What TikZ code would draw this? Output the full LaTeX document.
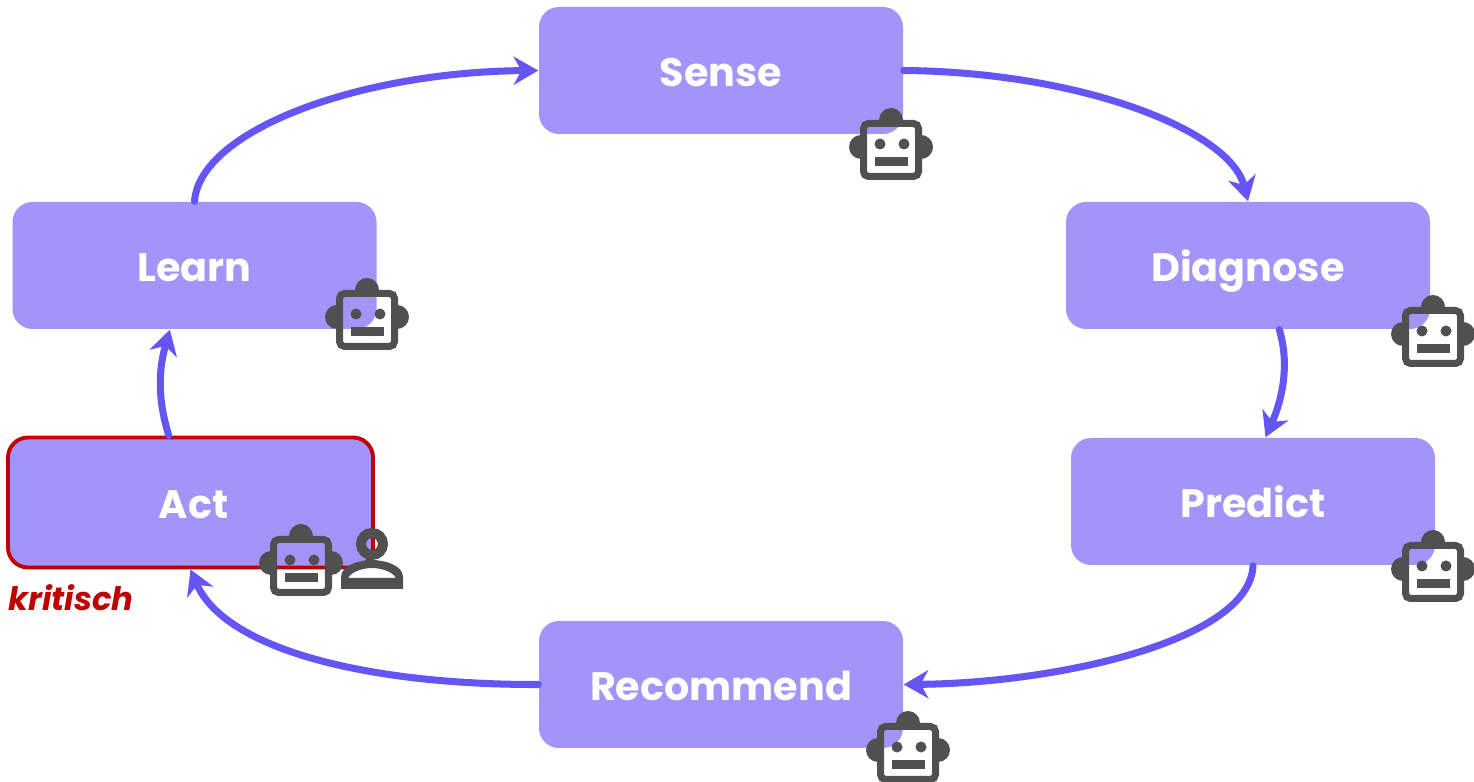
\documentclass[tikz,border=0pt]{standalone}
\usepackage{fontspec}
\setmainfont{Poppins}
\usetikzlibrary{arrows.meta}
\definecolor{boxfill}{HTML}{A294F9}
\definecolor{arrowblue}{HTML}{6655F5}
\definecolor{iconfill}{HTML}{505050}
\definecolor{critred}{HTML}{C00000}
\tikzset{
  phase/.style={fill=boxfill,rounded corners=0.2cm,minimum width=3.64cm,minimum height=1.27cm,
    text=white,font=\fontsize{11.3}{14}\selectfont\bfseries,inner sep=0pt,text height=0.32cm,text depth=0cm},
  cycle/.style={draw=arrowblue,line width=2pt,line cap=round,
    -{Stealth[length=7pt,width=8pt,inset=2.2pt]}},
  pics/robot/.style={code={
    \fill[iconfill] (-0.30,0.15) arc (90:270:0.12);
    \fill[iconfill] (0.30,0.15) arc (90:-90:0.12);
    \fill[iconfill] (-0.12,0.30) arc (180:0:0.12);
    \draw[iconfill,line width=0.07cm,rounded corners=0.05cm] (-0.275,-0.265) rectangle (0.275,0.265);
    \fill[iconfill] (-0.11,0.06) circle (0.055);
    \fill[iconfill] (0.13,0.06) circle (0.055);
    \fill[iconfill] (-0.16,-0.16) rectangle (0.17,-0.07);
  }},
  pics/person/.style={code={
    \draw[iconfill,line width=0.10cm] (0,0) circle (0.11);
    \fill[iconfill,even odd rule] (-0.31,-0.45) -- (-0.31,-0.33)
      .. controls (-0.31,-0.21) and (-0.12,-0.16) .. (0,-0.16)
      .. controls (0.12,-0.16) and (0.31,-0.21) .. (0.31,-0.33) -- (0.31,-0.45) -- cycle
      (-0.24,-0.34) .. controls (-0.20,-0.27) and (-0.08,-0.24) .. (0,-0.24)
      .. controls (0.08,-0.24) and (0.20,-0.27) .. (0.24,-0.34) -- cycle;
  }},
}
\begin{document}
\begin{tikzpicture}
  \useasboundingbox (0,0) rectangle (14.74,7.82);

  \node[phase] (sense) at (7.21,7.115) {Sense};
  \node[phase] (diagnose) at (12.48,5.165) {Diagnose};
  \node[phase] (predict) at (12.53,2.805) {Predict};
  \node[phase] (recommend) at (7.21,0.975) {Recommend};
  \node[phase,draw=critred,line width=1.1pt,minimum width=3.65cm,minimum height=1.30cm] (act) at (1.905,2.795) {\hspace*{0.06cm}Act};
  \node[phase] (learn) at (1.945,5.165) {Learn};
  \node[text=critred,font=\fontsize{9.2}{12}\selectfont\bfseries\itshape,inner sep=0pt] (critical) at (0.71,1.84) {kritisch};

  \draw[cycle] (sense.east) .. controls (10.80,7.10) and (12.30,6.52) .. (diagnose.north);
  \draw[cycle] (diagnose.-64) .. controls (12.90,4.17) and (12.82,3.82) .. (predict.79);
  \draw[cycle] (predict.south) .. controls (12.50,1.42) and (10.60,0.99) .. (recommend.east);
  \draw[cycle] (recommend.west) .. controls (3.70,0.97) and (2.25,1.32) .. (act.south);
  \draw[cycle] (act.108) .. controls (1.58,3.82) and (1.58,4.10) .. (learn.-111);
  \draw[cycle] (learn.north) .. controls (2.00,6.52) and (3.60,7.10) .. (sense.west);

  \pic at (8.91,6.32) {robot};
  \pic at (14.33,4.45) {robot};
  \pic at (14.33,2.10) {robot};
  \pic at (9.08,0.29) {robot};
  \pic at (3.01,2.16) {robot};
  \pic at (3.72,2.38) {person};
  \pic at (3.67,4.62) {robot};
\end{tikzpicture}
\end{document}
